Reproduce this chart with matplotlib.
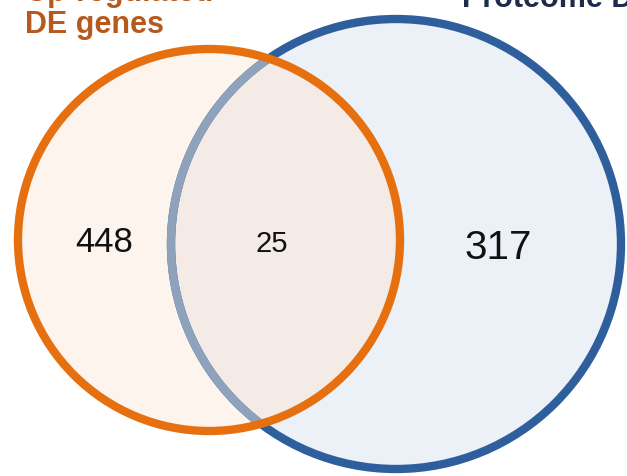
import matplotlib
matplotlib.use("Agg")
import matplotlib.pyplot as plt
from matplotlib.patches import Circle

# ─── Data ─────────────────────────────────────────────────────────────────────
left_title = ["Up-regulated", "DE genes"]
right_title = "Proteome DE proteins"
region_counts = [448, 25, 317]          # left only, both, right only

# ─── Layout (pixel space, y down) ─────────────────────────────────────────────
W, H = 627, 476
ORANGE_C, ORANGE_R = (209, 240), 191
BLUE_C, BLUE_R = (396, 244), 225

ORANGE_EDGE = "#E6700F"
BLUE_EDGE = "#2F5E9C"
GRAY_EDGE = "#8FA2BC"
ORANGE_FILL = "#FDF4EE"
BLUE_FILL = "#ECF1F8"
BOTH_FILL = "#F4EBE6"

plt.rcParams["font.family"] = ["Liberation Sans", "DejaVu Sans"]

fig = plt.figure(figsize=(W / 100, H / 100), dpi=100)
ax = fig.add_axes([0, 0, 1, 1])
ax.set_xlim(0, W)
ax.set_ylim(H, 0)
ax.set_aspect("equal")
ax.axis("off")

# fills
ax.add_patch(Circle(BLUE_C, BLUE_R, facecolor=BLUE_FILL, edgecolor="none", zorder=1))
orange_clip = Circle(ORANGE_C, ORANGE_R, facecolor=ORANGE_FILL, edgecolor="none", zorder=2)
ax.add_patch(orange_clip)
both = Circle(BLUE_C, BLUE_R, facecolor=BOTH_FILL, edgecolor="none", zorder=3)
ax.add_patch(both)
both.set_clip_path(orange_clip)

# outlines: blue circle, grey where it runs inside the orange one
ax.add_patch(Circle(BLUE_C, BLUE_R, fill=False, edgecolor=BLUE_EDGE, lw=6, zorder=4))
grey = Circle(BLUE_C, BLUE_R, fill=False, edgecolor=GRAY_EDGE, lw=6, zorder=5)
ax.add_patch(grey)
grey.set_clip_path(orange_clip)
ax.add_patch(Circle(ORANGE_C, ORANGE_R, fill=False, edgecolor=ORANGE_EDGE, lw=6, zorder=6))

# counts
ax.text(104, 242, str(region_counts[0]), fontsize=25, ha="center", va="center", color="#111111", zorder=7)
ax.text(272, 244, str(region_counts[1]), fontsize=21, ha="center", va="center", color="#111111", zorder=7)
ax.text(498, 248, str(region_counts[2]), fontsize=29, ha="center", va="center", color="#111111", zorder=7)

# set titles (cropped at the top, like the reference)
ax.text(25, 1, left_title[0], fontsize=22, fontweight="bold", color="#B6591C",
        ha="left", va="baseline", zorder=7)
ax.text(25, 33, left_title[1], fontsize=22, fontweight="bold", color="#B6591C",
        ha="left", va="baseline", zorder=7)
ax.text(462, 7, right_title, fontsize=22, fontweight="bold", color="#1E2B4A",
        ha="left", va="baseline", zorder=7)

fig.savefig("out.png", dpi=100)
